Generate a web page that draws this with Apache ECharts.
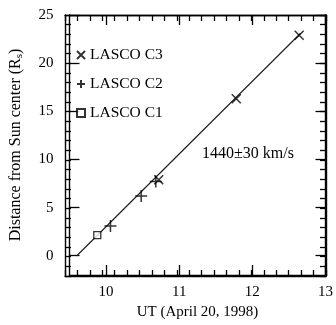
<!DOCTYPE html>
<html>
<head>
<meta charset="utf-8">
<script src="https://cdn.jsdelivr.net/npm/echarts@6/dist/echarts.min.js"></script>
<style>
  html, body { margin: 0; padding: 0; background: #fff; }
  #chart { width: 336px; height: 325px; }
</style>
</head>
<body>
<div id="chart"></div>
<script>
// Height-time measurements of the CME front (UT hours, solar radii)
const lascoC1 = [[9.88, 2.15]];
const lascoC2 = [[10.06, 3.1], [10.48, 6.2], [10.68, 7.7]];
const lascoC3 = [[10.72, 7.9], [11.78, 16.3], [12.64, 22.9]];
// Linear fit through the points
const fitLine = [[9.60, 0], [12.66, 23.1]];
const speedLabel = '1440\u00b130 km/s';

const xTickLabels = [10, 11, 12, 13];
const yTickLabels = [0, 5, 10, 15, 20, 25];

const X_MIN = 9.5, X_MAX = 13, Y_MIN = -2, Y_MAX = 25;
const xMinor = [];
for (let i = 0; i <= 21; i++) xMinor.push(X_MIN + i / 6);
const yMinor = [];
for (let v = Y_MIN; v <= Y_MAX; v++) yMinor.push(v);

const FONT = '"Liberation Serif", "DejaVu Serif", serif';
const INK = '#000';
const gridBox = { left: 65, top: 15, right: 10, bottom: 49 };

function xAxisDef(grid, pos, ticks, len, labels) {
  return {
    type: 'value', gridIndex: grid, position: pos,
    min: X_MIN, max: X_MAX, interval: 0.5,
    axisLine: { show: true, onZero: false, lineStyle: { color: INK, width: 1.4 } },
    axisTick: { show: true, inside: true, length: len, customValues: ticks,
                lineStyle: { color: INK, width: 1.3 } },
    axisLabel: labels ? { show: true, customValues: labels, margin: 10,
                          color: INK, fontFamily: FONT, fontSize: 15 } : { show: false },
    splitLine: { show: false }
  };
}
function yAxisDef(grid, pos, ticks, len, labels) {
  return {
    type: 'value', gridIndex: grid, position: pos,
    min: Y_MIN, max: Y_MAX, interval: 1,
    axisLine: { show: true, onZero: false, lineStyle: { color: INK, width: 1.4 } },
    axisTick: { show: true, inside: true, length: len, customValues: ticks,
                lineStyle: { color: INK, width: 1.3 } },
    axisLabel: labels ? { show: true, customValues: labels, margin: 16,
                          color: INK, fontFamily: FONT, fontSize: 15 } : { show: false },
    splitLine: { show: false }
  };
}

const xMain = xAxisDef(0, 'bottom', xTickLabels, 10, xTickLabels);
xMain.name = 'UT (April 20, 1998)';
xMain.nameLocation = 'middle';
xMain.nameGap = 30;
xMain.nameTextStyle = { color: INK, fontFamily: FONT, fontSize: 15 };

const yMain = yAxisDef(0, 'left', yTickLabels, 10, yTickLabels);
yMain.name = '{t|Distance from Sun center (R}{s|s}{t|)}';
yMain.nameLocation = 'middle';
yMain.nameGap = 45;
yMain.nameTextStyle = {
  color: INK, fontFamily: FONT, fontSize: 16,
  rich: {
    t: { color: INK, fontFamily: FONT, fontSize: 16 },
    s: { color: INK, fontFamily: FONT, fontSize: 11, verticalAlign: 'bottom', padding: [6, 0, 0, 0] }
  }
};

const crossSym = 'path://M0,0L10,10M10,0L0,10';
const plusSym = 'path://M5,0L5,10M0,5L10,5';
const strokeStyle = { color: 'rgba(0,0,0,0)', borderColor: INK, borderWidth: 1.5 };

const chart = echarts.init(document.getElementById('chart'), null, { renderer: 'canvas' });
chart.setOption({
  animation: false,
  backgroundColor: '#fff',
  grid: [
    Object.assign({}, gridBox),
    Object.assign({}, gridBox)
  ],
  xAxis: [
    xMain,
    xAxisDef(0, 'top', xTickLabels, 10, null),
    xAxisDef(1, 'bottom', xMinor, 6, null),
    xAxisDef(1, 'top', xMinor, 6, null)
  ],
  yAxis: [
    yMain,
    yAxisDef(0, 'right', yTickLabels, 10, null),
    yAxisDef(1, 'left', yMinor, 6, null),
    yAxisDef(1, 'right', yMinor, 6, null)
  ],
  legend: {
    orient: 'vertical',
    left: 71, top: 42,
    itemWidth: 8, itemHeight: 8,
    itemGap: 13,
    data: ['LASCO C3', 'LASCO C2', 'LASCO C1'],
    textStyle: { color: INK, fontFamily: FONT, fontSize: 15.5, lineHeight: 15 }
  },
  graphic: [{
    type: 'text', left: 202, top: 146,
    style: { text: speedLabel, fill: INK, font: '16px ' + FONT }
  }],
  series: [
    {
      type: 'line', data: fitLine, xAxisIndex: 0, yAxisIndex: 0,
      showSymbol: false, symbol: 'none', silent: true,
      lineStyle: { color: '#222', width: 1.2 }, z: 1
    },
    {
      name: 'LASCO C3', type: 'scatter', data: lascoC3, xAxisIndex: 0, yAxisIndex: 0,
      symbol: crossSym, symbolSize: 9, itemStyle: strokeStyle, z: 3
    },
    {
      name: 'LASCO C2', type: 'scatter', data: lascoC2, xAxisIndex: 0, yAxisIndex: 0,
      symbol: plusSym, symbolSize: 12, itemStyle: strokeStyle, z: 3
    },
    {
      name: 'LASCO C1', type: 'scatter', data: lascoC1, xAxisIndex: 0, yAxisIndex: 0,
      symbol: 'rect', symbolSize: 7,
      itemStyle: { color: '#fff', borderColor: INK, borderWidth: 1.3 }, z: 3
    }
  ]
});
</script>
</body>
</html>
